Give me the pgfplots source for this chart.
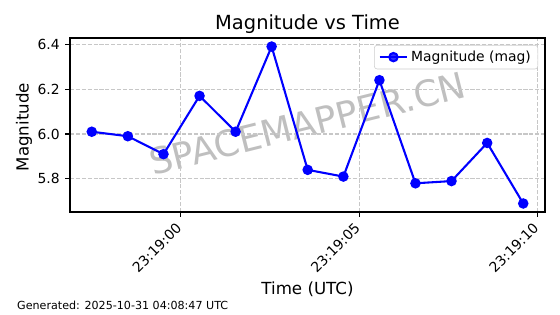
\documentclass[border=0pt]{standalone}
\usepackage{fontspec}
\setmainfont{DejaVu Sans}
\usepackage{pgfplots}
\pgfplotsset{compat=1.18}
\begin{document}
\begin{tikzpicture}
\useasboundingbox (0,0) rectangle (403.2pt,226.08pt);
% watermark behind the plot
\node[rotate=14, text=black!25, font=\fontsize{26}{30}\selectfont, inner sep=0pt] at (221.4pt,137pt) {SPACEMAPPER.CN};
\begin{axis}[
  at={(50.4pt,73.44pt)}, anchor=south west,
  scale only axis, width=342pt, height=125.28pt,
  xmin=-3.1, xmax=10.21, ymin=5.652, ymax=6.428,
  xtick={0,5,10}, xticklabels={},
  ytick={5.8,6.0,6.2,6.4}, yticklabels={5.8,6.0,6.2,6.4},
  /pgf/number format/assume math mode=true,
  tick align=outside, major tick length=3.5pt,
  tick style={line width=0.8pt, black},
  xtick pos=bottom, ytick pos=left,
  axis line style={line width=0.8pt},
  grid=major,
  major grid style={black!22, line width=0.8pt, dash pattern=on 2.96pt off 1.28pt},
  yticklabel style={xshift=-3.7pt, anchor=east, inner sep=0pt, font=\fontsize{10}{12}\selectfont},
  legend style={at={(0.9854,0.96)}, anchor=north east,
    draw=black!20, rounded corners=2pt, fill=white, fill opacity=0.8, text opacity=1,
    font=\fontsize{10}{12}\selectfont, inner xsep=3pt, inner ysep=2pt},
  legend cell align=left,
  legend image code/.code={\draw[mark repeat=2,mark phase=2] plot coordinates {(0pt,0pt) (10pt,0pt) (20pt,0pt)};},
]
\addplot[color=blue, line width=1.5pt, mark=*, mark size=3pt, mark options={solid, fill=blue, draw=blue}] coordinates {
(-2.49,6.01) (-1.48,5.99) (-0.48,5.91) (0.53,6.17) (1.54,6.01) (2.55,6.39) (3.56,5.84) (4.56,5.81) (5.57,6.24) (6.58,5.78) (7.59,5.79) (8.59,5.96) (9.60,5.69)
};
\addlegendentry{Magnitude (mag)}
\end{axis}
% rotated time tick labels (east anchor just left of / below each tick)
\node[rotate=45, anchor=east, inner sep=0pt, font=\fontsize{10}{12}\selectfont] at (128.9pt,63.64pt) {23:19:00};
\node[rotate=45, anchor=east, inner sep=0pt, font=\fontsize{10}{12}\selectfont] at (257.4pt,63.64pt) {23:19:05};
\node[rotate=45, anchor=east, inner sep=0pt, font=\fontsize{10}{12}\selectfont] at (385.85pt,63.64pt) {23:19:10};
\node[anchor=base, font=\fontsize{14}{17}\selectfont] at (221.4pt,204.5pt) {Magnitude vs Time};
\node[anchor=base, font=\fontsize{12}{14}\selectfont] at (221.4pt,14pt) {Time (UTC)};
\node[anchor=base, rotate=90, font=\fontsize{12}{14}\selectfont] at (20.6pt,134.5pt) {Magnitude};
\node[anchor=base west, inner sep=0pt, font=\fontsize{8}{10}\selectfont] at (12.2pt,3.6pt) {Generated: 2025-10-31 04:08:47 UTC};
\end{tikzpicture}
\end{document}
